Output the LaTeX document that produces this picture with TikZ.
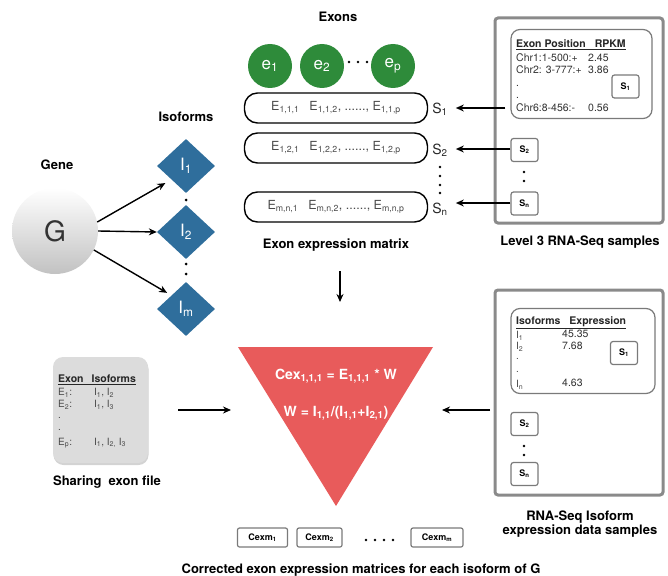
\documentclass[tikz,border=0pt]{standalone}
\usepackage{fontspec}
\setmainfont{TeX Gyre Heros}
\usetikzlibrary{shapes.geometric,arrows.meta,shadows}
\definecolor{isoblue}{HTML}{2F6E9C}
\definecolor{exgreen}{HTML}{2E8B3A}
\definecolor{trired}{HTML}{E85B5B}
\definecolor{boxgray}{HTML}{7A7A7A}
\definecolor{outgray}{HTML}{8A8A8A}
\definecolor{sharegray}{HTML}{DCDCDC}
\definecolor{txtgray}{HTML}{4A4A4A}
\begin{document}
\begin{tikzpicture}[x=1pt,y=-1pt,
  title/.style={font=\fontsize{13}{15}\selectfont\bfseries, inner sep=0, align=center},
  arr/.style={-{Stealth[length=8pt,width=7pt]}, line width=1.4pt},
  isob/.style={diamond, fill=isoblue, minimum width=58pt, minimum height=54pt, inner sep=0, text=white, font=\fontsize{17}{17}\selectfont},
  exc/.style={circle, fill=exgreen, minimum size=44pt, inner sep=0, text=white, font=\fontsize{17}{17}\selectfont},
  rowbox/.style={draw, line width=1.4pt, rounded corners=13pt, minimum width=183pt, minimum height=30pt, inner sep=0, text=txtgray, font=\fontsize{12.5}{14}\selectfont},
  sbox/.style={draw=boxgray, line width=1.2pt, rounded corners=2.5pt, minimum width=27pt, minimum height=23pt, inner sep=0, font=\fontsize{9}{11}\selectfont\bfseries},
  cbox/.style={draw=boxgray, line width=1.2pt, rounded corners=2pt, minimum width=50pt, minimum height=19pt, inner sep=0, font=\fontsize{9}{11}\selectfont\bfseries},
  outerbox/.style={draw=outgray, line width=3pt, rounded corners=3pt},
  innerbox/.style={draw=boxgray, line width=1.2pt, rounded corners=9pt},
  dotn/.style={circle, fill=black, minimum size=3pt, inner sep=0},
  slab/.style={inner sep=0, font=\fontsize{14}{16}\selectfont, text=black!85},
  tl/.style={anchor=west, inner sep=0, font=\fontsize{10.5}{12}\selectfont, text=black!80},
  tlh/.style={anchor=west, inner sep=0, font=\fontsize{10.5}{12}\selectfont\bfseries, text=black!85},
  tls/.style={anchor=west, inner sep=0, font=\fontsize{10}{12}\selectfont, text=txtgray},
]
\useasboundingbox (0,0) rectangle (668,575);

% Gene
\node[title] (genelab) at (57,165) {Gene};
\node[circle, minimum size=86pt, inner sep=0, top color=white, bottom color=black!24, font=\fontsize{28}{28}\selectfont, text=black!80] (G) at (55,231) {G};

% Isoforms
\node[title] (isolab) at (186,117) {Isoforms};
\node[isob] (I1) at (186,166) {I\textsubscript{1}};
\node[isob] (I2) at (186,232) {I\textsubscript{2}};
\node[isob] (Im) at (186,309) {I\textsubscript{m}};
\node[dotn] (d1) at (186,200) {};
\node[dotn] (d2) at (186,264) {};
\node[dotn] (d3) at (186,274) {};

\draw[arr, shorten >=7pt] (G.12) -- (I1.south west);
\draw[arr] (G.east) -- (I2.west);
\draw[arr, shorten >=5pt] (G.-26) -- (Im.north west);

% Exons
\node[title] (exlab) at (338,17) {Exons};
\node[exc] (e1) at (270,66) {e\textsubscript{1}};
\node[exc] (e2) at (322,66) {e\textsubscript{2}};
\node[exc] (ep) at (393,66) {e\textsubscript{p}};
\node[dotn, minimum size=2.6pt] (ed1) at (349,62) {};
\node[dotn, minimum size=2.6pt] (ed2) at (358,62) {};
\node[dotn, minimum size=2.6pt] (ed3) at (367,62) {};

% rows
\node[rowbox] (r1) at (336,108) {E\textsubscript{1,1,1}\hspace{10pt}E\textsubscript{1,1,2}, ......, E\textsubscript{1,1,p}};
\node[rowbox] (r2) at (336,148) {E\textsubscript{1,2,1}\hspace{10pt}E\textsubscript{1,2,2}, ......, E\textsubscript{1,2,p}};
\node[rowbox] (r3) at (336,207) {E\textsubscript{m,n,1}\hspace{10pt}E\textsubscript{m,n,2}, ......, E\textsubscript{m,n,p}};
\node[slab] (s1l) at (440,109) {S\textsubscript{1}};
\node[slab] (s2l) at (440,150) {S\textsubscript{2}};
\node[slab] (snl) at (440,209) {S\textsubscript{n}};
\node[dotn, minimum size=2.6pt] (sd1) at (440,167) {};
\node[dotn, minimum size=2.6pt] (sd2) at (440,176) {};
\node[dotn, minimum size=2.6pt] (sd3) at (440,185) {};
\node[dotn, minimum size=2.6pt] (sd4) at (440,193) {};
\node[title] (matlab) at (336,245) {Exon expression matrix};

% Level 3 box
\draw[outerbox] (495,18) rectangle (663,223);
\node[innerbox, minimum width=141pt, minimum height=89pt, inner sep=0] (ib1) at (581.5,74) {};
\node[tlh] (h1) at (516,45) {\underline{Exon Position\hspace{9pt}RPKM}};
\node[tl] (c1) at (516,58) {Chr1:1-500:+};
\node[tl] (v1) at (588,58) {2.45};
\node[tl] (c2) at (516,70) {Chr2: 3-777:+};
\node[tl] (v2) at (588,70) {3.86};
\node[tl] (c3) at (516,86) {.};
\node[tl] (c4) at (516,98) {.};
\node[tl] (c6) at (516,108) {Chr6:8-456:-};
\node[tl] (v6) at (588,108) {0.56};
\node[sbox] (ts1) at (625.5,86.5) {S\textsubscript{1}};
\node[sbox] (ts2) at (524.5,150) {S\textsubscript{2}};
\node[dotn, minimum size=2.6pt] (td1) at (524,172) {};
\node[dotn, minimum size=2.6pt] (td2) at (524,181) {};
\node[sbox] (tsn) at (524.5,203.5) {S\textsubscript{n}};
\node[title] (l3lab) at (580,242) {Level 3 RNA-Seq samples};

\draw[arr] (ib1.west |- s1l) ++(-5,-1) coordinate (a1s) -- ([xshift=8pt]s1l.east |- a1s);
\draw[arr] (ts2.west |- 0,149) coordinate (a2s) -- ([xshift=8pt]s2l.east |- a2s);
\draw[arr] (tsn.west |- 0,203) coordinate (a3s) -- ([xshift=8pt]snl.east |- a3s);

% down arrow
\coordinate (dn1) at (340,271);
\coordinate (dn2) at (340,302);
\draw[arr] (dn1) -- (dn2);

% triangle
\fill[trired] (238,347) coordinate (tA) -- (433,347) coordinate (tB) -- (336,506) coordinate (tC) -- cycle;
\node[text=white, font=\fontsize{14}{16}\selectfont\bfseries, inner sep=0] (f1) at (336,376) {Cex\textsubscript{1,1,1} = E\textsubscript{1,1,1} * W};
\node[text=white, font=\fontsize{14}{16}\selectfont\bfseries, inner sep=0] (f2) at (336,413) {W = I\textsubscript{1,1}/(I\textsubscript{1,1}+I\textsubscript{2,1})};

% sharing exon file
\node[fill=sharegray, rounded corners=10pt, minimum width=95pt, minimum height=106pt, inner sep=0,
      drop shadow={opacity=0.35, shadow xshift=0.5pt, shadow yshift=-2pt}] (share) at (100.5,410) {};
\node[tlh, font=\fontsize{10.5}{12}\selectfont\bfseries] (sh0) at (58,380) {\underline{Exon\hspace{8pt}Isoforms}};
\node[tls] (sh1) at (58,393) {E\textsubscript{1}:};
\node[tls] (sh1b) at (94,393) {I\textsubscript{1}, I\textsubscript{2}};
\node[tls] (sh2) at (58,405) {E\textsubscript{2}:};
\node[tls] (sh2b) at (94,405) {I\textsubscript{1}, I\textsubscript{3}};
\node[tls] (sh3) at (58,418) {.};
\node[tls] (sh4) at (58,430) {.};
\node[tls] (shp) at (58,443) {E\textsubscript{p}:};
\node[tls] (shpb) at (94,443) {I\textsubscript{1}, I\textsubscript{2,} I\textsubscript{3}};
\node[title] (shlab) at (107,482) {Sharing\ \ exon file};
\coordinate (la1) at (178,410);
\coordinate (la2) at (231,410);
\draw[arr] (la1) -- (la2);

% isoform expression box
\draw[outerbox] (495,290) rectangle (663,495);
\node[innerbox, minimum width=144pt, minimum height=85pt, inner sep=0] (ib2) at (583,351) {};
\node[tlh] (ih) at (516,323) {\underline{Isoforms\hspace{9pt}Expression}};
\node[tls] (i1) at (516,336) {I\textsubscript{1}};
\node[tl] (iv1) at (562,334) {45.35};
\node[tls] (i2) at (516,347) {I\textsubscript{2}};
\node[tl] (iv2) at (562,346) {7.68};
\node[tls] (i3) at (516,359) {.};
\node[tls] (i4) at (516,372) {.};
\node[tls] (in) at (516,385) {I\textsubscript{n}};
\node[tl] (ivn) at (562,383) {4.63};
\node[sbox] (bs1) at (624,353) {S\textsubscript{1}};
\node[sbox] (bs2) at (524.5,424) {S\textsubscript{2}};
\node[dotn, minimum size=2.6pt] (bd1) at (524,446) {};
\node[dotn, minimum size=2.6pt] (bd2) at (524,455) {};
\node[sbox] (bsn) at (524.5,474) {S\textsubscript{n}};
\node[title] (rnalab) at (580,524) {RNA-Seq Isoform\\[-1pt]expression data samples};
\coordinate (ra1) at (490,410);
\coordinate (ra2) at (442,410);
\draw[arr] (ra1) -- (ra2);

% corrected matrices
\node[cbox] (cx1) at (262.5,537.5) {Cexm\textsubscript{1}};
\node[cbox, minimum width=45pt] (cx2) at (319.5,537.5) {Cexm\textsubscript{2}};
\node[cbox, minimum width=52pt] (cxm) at (437,537.5) {Cexm\textsubscript{m}};
\node[dotn, minimum size=2.6pt] (cd1) at (366,540) {};
\node[dotn, minimum size=2.6pt] (cd2) at (375,540) {};
\node[dotn, minimum size=2.6pt] (cd3) at (384,540) {};
\node[dotn, minimum size=2.6pt] (cd4) at (393,540) {};
\node[title] (caplab) at (361,570) {Corrected exon expression matrices for each isoform of G};
\end{tikzpicture}
\end{document}
